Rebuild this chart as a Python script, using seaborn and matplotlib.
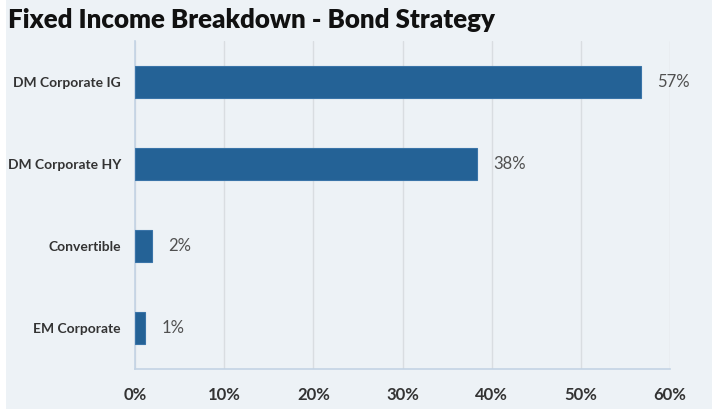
import matplotlib
matplotlib.use("Agg")
import matplotlib.pyplot as plt
import seaborn as sns
import pandas as pd
from matplotlib.patches import Rectangle

categories = ["DM Corporate IG", "DM Corporate HY", "Convertible", "EM Corporate"]
values = [56.7, 38.3, 1.9, 1.1]
labels = ["57%", "38%", "2%", "1%"]
xticks = [0, 10, 20, 30, 40, 50, 60]
xticklabels = ["0%", "10%", "20%", "30%", "40%", "50%", "60%"]

bg = "#edf2f6"
bar_color = "#246296"

sns.set_theme(style="white")
plt.rcParams['font.family'] = ['Lato', 'DejaVu Sans']

df = pd.DataFrame({"category": categories, "value": values})

fig = plt.figure(figsize=(7.12, 4.09), dpi=100, facecolor=bg)
fig.patches.append(Rectangle((0, 0), 6 / 712, 1, transform=fig.transFigure,
                             facecolor="white", edgecolor="none", zorder=-1))
ax = fig.add_axes([135 / 712, 1 - 369 / 409, (670 - 135) / 712, (369 - 41) / 409])
ax.set_facecolor(bg)

sns.barplot(data=df, x="value", y="category", orient="h", color=bar_color,
            width=0.4, saturation=1, ax=ax, zorder=3, linewidth=0.8,
            edgecolor="#3a74a8")

ax.set_xlim(0, 60)
ax.set_ylim(3.5, -0.5)
ax.set_xticks(xticks)
ax.set_xticklabels(xticklabels, fontsize=12, fontweight="bold", color="#333333")
ax.tick_params(axis="x", pad=13, length=0)
ax.tick_params(axis="y", pad=10, length=0, labelsize=10)
for t in ax.get_yticklabels():
    t.set_fontweight("bold")
    t.set_color("#333333")
ax.set_xlabel("")
ax.set_ylabel("")
ax.grid(axis="x", color="#d9dde1", linewidth=1, zorder=0)
ax.grid(axis="y", visible=False)
for s in ["top", "right"]:
    ax.spines[s].set_visible(False)
for s in ["left", "bottom"]:
    ax.spines[s].set_color("#c3d3e4")
    ax.spines[s].set_linewidth(1.2)

for i, (v, lab) in enumerate(zip(values, labels)):
    ax.annotate(lab, xy=(v, i), xytext=(12, 0), textcoords="offset points",
                va="center", ha="left", fontsize=12, color="#505050",
                fontweight="normal")

fig.text(8 / 712, 1 - 20 / 409, "Fixed Income Breakdown - Bond Strategy",
         fontsize=18.6, fontweight="heavy", color="#111111", va="center", ha="left")

fig.savefig("out.png", dpi=100, facecolor=bg)
